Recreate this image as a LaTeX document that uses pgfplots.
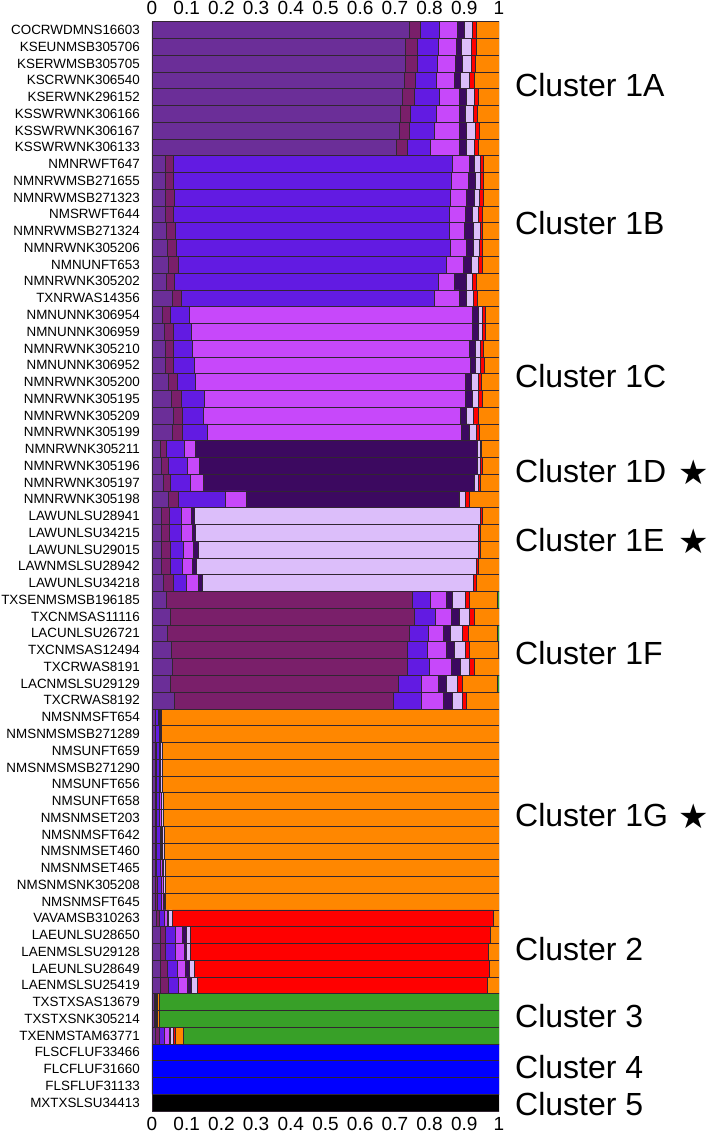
\documentclass[border=0pt]{standalone}
\usepackage{fontspec}
\setmainfont{Liberation Sans}
\newfontfamily\symfont{DejaVu Sans}
\usepackage{pgfplots}
\usepackage{pgfplotstable}
\pgfplotsset{compat=1.18}

% ancestry components
\definecolor{cA}{RGB}{107,46,152}
\definecolor{cB}{RGB}{122,31,106}
\definecolor{cC}{RGB}{98,27,226}
\definecolor{cD}{RGB}{199,72,250}
\definecolor{cE}{RGB}{60,9,96}
\definecolor{cF}{RGB}{220,190,250}
\definecolor{cG}{RGB}{255,0,0}
\definecolor{cH}{RGB}{255,135,0}
\definecolor{cI}{RGB}{56,160,40}
\definecolor{cJ}{RGB}{0,0,255}
\definecolor{cK}{RGB}{0,0,0}
\definecolor{edge}{RGB}{50,38,50}

% membership proportions, one row per individual
\pgfplotstableread{
y  a     b     c     d     e     f     g     h     i     j k
0  0.742 0.030 0.056 0.052 0.019 0.023 0.013 0.065 0     0 0
1  0.731 0.034 0.060 0.051 0.016 0.027 0.014 0.067 0     0 0
2  0.731 0.032 0.060 0.050 0.022 0.024 0.013 0.068 0     0 0
3  0.727 0.033 0.060 0.050 0.019 0.025 0.014 0.072 0     0 0
4  0.722 0.033 0.073 0.058 0.019 0.024 0.012 0.059 0     0 0
5  0.714 0.030 0.074 0.068 0.016 0.024 0.012 0.062 0     0 0
6  0.713 0.027 0.073 0.073 0.019 0.026 0.011 0.058 0     0 0
7  0.705 0.032 0.066 0.083 0.019 0.024 0.011 0.060 0     0 0
8  0.037 0.023 0.806 0.047 0.017 0.015 0.010 0.045 0     0 0
9  0.037 0.024 0.801 0.050 0.019 0.016 0.008 0.045 0     0 0
10 0.039 0.026 0.794 0.046 0.024 0.014 0.012 0.045 0     0 0
11 0.039 0.023 0.794 0.048 0.020 0.017 0.012 0.047 0     0 0
12 0.041 0.026 0.790 0.042 0.027 0.019 0.008 0.047 0     0 0
13 0.043 0.027 0.789 0.046 0.021 0.017 0.008 0.049 0     0 0
14 0.048 0.029 0.770 0.051 0.023 0.020 0.010 0.049 0     0 0
15 0.042 0.023 0.760 0.045 0.037 0.016 0.011 0.066 0     0 0
16 0.057 0.028 0.728 0.072 0.020 0.021 0.010 0.064 0     0 0
17 0.030 0.022 0.055 0.817 0.015 0.013 0.008 0.040 0     0 0
18 0.036 0.024 0.054 0.810 0.015 0.013 0.008 0.040 0     0 0
19 0.038 0.023 0.055 0.799 0.016 0.014 0.010 0.045 0     0 0
20 0.038 0.023 0.060 0.795 0.016 0.015 0.010 0.043 0     0 0
21 0.048 0.025 0.053 0.776 0.017 0.020 0.011 0.050 0     0 0
22 0.056 0.027 0.069 0.752 0.018 0.019 0.010 0.049 0     0 0
23 0.061 0.027 0.061 0.739 0.019 0.019 0.013 0.061 0     0 0
24 0.059 0.028 0.073 0.730 0.023 0.021 0.009 0.057 0     0 0
25 0.023 0.019 0.051 0.031 0.812 0.009 0.005 0.050 0     0 0
26 0.027 0.021 0.055 0.032 0.801 0.009 0.008 0.047 0     0 0
27 0.032 0.021 0.058 0.037 0.780 0.012 0.005 0.055 0     0 0
28 0.048 0.029 0.135 0.059 0.614 0.019 0.010 0.086 0     0 0
29 0.026 0.024 0.033 0.029 0.011 0.822 0.007 0.048 0     0 0
30 0.027 0.023 0.035 0.031 0.010 0.813 0.007 0.054 0     0 0
31 0.027 0.027 0.036 0.030 0.012 0.807 0.007 0.054 0     0 0
32 0.027 0.027 0.034 0.028 0.012 0.806 0.007 0.059 0     0 0
33 0.033 0.027 0.040 0.033 0.012 0.781 0.007 0.067 0     0 0
34 0.041 0.710 0.050 0.047 0.018 0.036 0.012 0.081 0.005 0 0
35 0.053 0.702 0.062 0.046 0.022 0.030 0.014 0.071 0     0 0
36 0.044 0.698 0.055 0.041 0.021 0.036 0.015 0.085 0.005 0 0
37 0.056 0.681 0.057 0.053 0.023 0.032 0.013 0.083 0.002 0 0
38 0.059 0.676 0.065 0.061 0.026 0.027 0.015 0.071 0     0 0
39 0.053 0.657 0.067 0.048 0.022 0.034 0.014 0.100 0.005 0 0
40 0.064 0.630 0.083 0.063 0.026 0.028 0.013 0.093 0     0 0
41 0.008 0.002 0.009 0.003 0.001 0.003 0     0.974 0     0 0
42 0.008 0.002 0.010 0.003 0.001 0.004 0     0.972 0     0 0
43 0.008 0.003 0.010 0.003 0.001 0.004 0     0.971 0     0 0
44 0.008 0.003 0.010 0.003 0.001 0.004 0     0.971 0     0 0
45 0.008 0.003 0.010 0.003 0.001 0.004 0     0.971 0     0 0
46 0.009 0.003 0.010 0.004 0.001 0.004 0     0.969 0     0 0
47 0.009 0.003 0.010 0.004 0.001 0.004 0     0.969 0     0 0
48 0.009 0.003 0.011 0.005 0.002 0.004 0     0.966 0     0 0
49 0.009 0.003 0.011 0.005 0.002 0.005 0     0.965 0     0 0
50 0.010 0.003 0.012 0.005 0.002 0.005 0     0.963 0     0 0
51 0.010 0.004 0.012 0.005 0.002 0.005 0     0.962 0     0 0
52 0.010 0.004 0.012 0.006 0.002 0.005 0     0.961 0     0 0
53 0.013 0.008 0.014 0.009 0.004 0.011 0.925 0.016 0     0 0
54 0.025 0.014 0.027 0.022 0.010 0.012 0.866 0.024 0     0 0
55 0.023 0.014 0.029 0.027 0.007 0.011 0.859 0.030 0     0 0
56 0.025 0.019 0.030 0.023 0.010 0.014 0.850 0.029 0     0 0
57 0.025 0.021 0.031 0.026 0.009 0.017 0.838 0.033 0     0 0
58 0.006 0.002 0.002 0.001 0.003 0.001 0.001 0.004 0.980 0 0
59 0.006 0.002 0.003 0.001 0.002 0.001 0.001 0.004 0.980 0 0
60 0.010 0.011 0.014 0.015 0.004 0.007 0.006 0.023 0.910 0 0
61 0     0     0     0     0     0     0     0     0     1 0
62 0     0     0     0     0     0     0     0     0     1 0
63 0     0     0     0     0     0     0     0     0     1 0
64 0     0     0     0     0     0     0     0     0     0 1
}\qdata

\begin{document}
\begin{tikzpicture}
\useasboundingbox (-152pt,-24pt) rectangle (557pt,1111pt);
\begin{axis}[
  at={(0pt,0pt)}, anchor=south west,
  scale only axis, width=347pt, height=1089.5pt,
  xbar stacked, bar width=1,
  xmin=0, xmax=1, ymin=-0.5, ymax=64.5, y dir=reverse,
  enlargelimits=false,
  axis line style={draw=none}, major tick length=0pt,
  xtick={0,0.1,0.2,0.3,0.4,0.5,0.6,0.7,0.8,0.9,1},
  xticklabels={0,0.1,0.2,0.3,0.4,0.5,0.6,0.7,0.8,0.9,1},
  xticklabel style={font=\fontsize{19}{19}\selectfont, inner sep=0pt, anchor=north, yshift=-6.5pt},
  ytick={0,...,64},
  yticklabels={COCRWDMNS16603,KSEUNMSB305706,KSERWMSB305705,KSCRWNK306540,KSERWNK296152,KSSWRWNK306166,KSSWRWNK306167,KSSWRWNK306133,
    NMNRWFT647,NMNRWMSB271655,NMNRWMSB271323,NMSRWFT644,NMNRWMSB271324,NMNRWNK305206,NMNUNFT653,NMNRWNK305202,TXNRWAS14356,
    NMNUNNK306954,NMNUNNK306959,NMNRWNK305210,NMNUNNK306952,NMNRWNK305200,NMNRWNK305195,NMNRWNK305209,NMNRWNK305199,
    NMNRWNK305211,NMNRWNK305196,NMNRWNK305197,NMNRWNK305198,
    LAWUNLSU28941,LAWUNLSU34215,LAWUNLSU29015,LAWNMSLSU28942,LAWUNLSU34218,
    TXSENMSMSB196185,TXCNMSAS11116,LACUNLSU26721,TXCNMSAS12494,TXCRWAS8191,LACNMSLSU29129,TXCRWAS8192,
    NMSNMSFT654,NMSNMSMSB271289,NMSUNFT659,NMSNMSMSB271290,NMSUNFT656,NMSUNFT658,NMSNMSET203,NMSNMSFT642,NMSNMSET460,NMSNMSET465,NMSNMSNK305208,NMSNMSFT645,
    VAVAMSB310263,LAEUNLSU28650,LAENMSLSU29128,LAEUNLSU28649,LAENMSLSU25419,
    TXSTXSAS13679,TXSTXSNK305214,TXENMSTAM63771,
    FLSCFLUF33466,FLCFLUF31660,FLSFLUF31133,
    MXTXSLSU34413},
  yticklabel style={font=\fontsize{13.4}{14}\selectfont, inner sep=0pt, anchor=east, xshift=-12pt},
  every axis plot/.append style={draw=edge, line width=0.5pt},
]
\addplot[fill=cA] table[x=a, y=y] {\qdata};
\addplot[fill=cB] table[x=b, y=y] {\qdata};
\addplot[fill=cC] table[x=c, y=y] {\qdata};
\addplot[fill=cD] table[x=d, y=y] {\qdata};
\addplot[fill=cE] table[x=e, y=y] {\qdata};
\addplot[fill=cF] table[x=f, y=y] {\qdata};
\addplot[fill=cG] table[x=g, y=y] {\qdata};
\addplot[fill=cH] table[x=h, y=y] {\qdata};
\addplot[fill=cI] table[x=i, y=y] {\qdata};
\addplot[fill=cJ] table[x=j, y=y] {\qdata};
\addplot[fill=cK] table[x=k, y=y] {\qdata};
\end{axis}

% tick labels along the top edge
\begin{axis}[
  at={(0pt,0pt)}, anchor=south west,
  scale only axis, width=347pt, height=1089.5pt,
  xmin=0, xmax=1, ymin=0, ymax=1,
  axis line style={draw=none}, major tick length=0pt,
  hide y axis, xticklabel pos=upper,
  xtick={0,0.1,0.2,0.3,0.4,0.5,0.6,0.7,0.8,0.9,1},
  xticklabels={0,0.1,0.2,0.3,0.4,0.5,0.6,0.7,0.8,0.9,1},
  xticklabel style={font=\fontsize{19}{19}\selectfont, inner sep=0pt, anchor=base, yshift=6.5pt},
]
\end{axis}

% cluster names
\begin{scope}[every node/.style={anchor=base west, inner sep=0pt, font=\fontsize{32}{33}\selectfont}]
\node at (363pt,1014pt) {Cluster 1A};
\node at (363pt,876pt) {Cluster 1B};
\node at (363pt,723pt) {Cluster 1C};
\node at (363pt,628pt) {Cluster 1D};
\node at (363pt,559pt) {Cluster 1E};
\node at (363pt,446pt) {Cluster 1F};
\node at (363pt,284pt) {Cluster 1G};
\node at (363pt,150pt) {Cluster 2};
\node at (363pt,83pt) {Cluster 3};
\node at (363pt,32pt) {Cluster 4};
\node at (363pt,-5pt) {Cluster 5};
\end{scope}
\begin{scope}[every node/.style={anchor=center, inner sep=0pt, font=\symfont\fontsize{34}{34}\selectfont}]
\node at (542pt,639pt) {★};
\node at (542pt,570pt) {★};
\node at (542pt,295pt) {★};
\end{scope}
\end{tikzpicture}
\end{document}
